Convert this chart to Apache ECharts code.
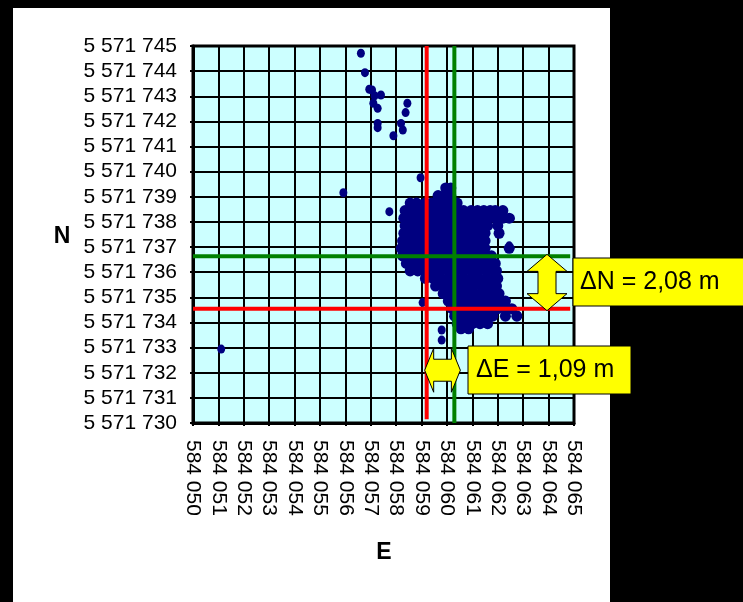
<!DOCTYPE html>
<html>
<head>
<meta charset="utf-8">
<script src="https://cdn.jsdelivr.net/npm/echarts@6/dist/echarts.min.js"></script>
<style>
html, body { margin: 0; padding: 0; background: #000; }
#chart { width: 743px; height: 602px; }
</style>
</head>
<body>
<div id="chart"></div>
<script>
// coordinates are stored as offsets from these bases (m)
var baseE = 584050, baseN = 5571730;

var xTickLabels = ['584 050', '584 051', '584 052', '584 053', '584 054', '584 055', '584 056', '584 057',
    '584 058', '584 059', '584 060', '584 061', '584 062', '584 063', '584 064', '584 065'];
var yTickLabels = ['5 571 730', '5 571 731', '5 571 732', '5 571 733', '5 571 734', '5 571 735', '5 571 736', '5 571 737',
    '5 571 738', '5 571 739', '5 571 740', '5 571 741', '5 571 742', '5 571 743', '5 571 744', '5 571 745'];

// loose points [E, N]
var loosePoints = [
    [6.61, 14.71], [6.77, 13.94], [6.94, 13.28], [7.05, 13.25], [7.15, 13.02], [7.40, 13.05], [7.10, 12.72],
    [7.27, 12.52], [8.44, 12.72], [8.37, 12.35], [7.27, 11.92], [7.27, 11.75], [8.19, 11.92], [8.26, 11.66],
    [7.89, 11.43], [8.96, 9.76], [5.92, 9.16], [7.73, 8.41], [1.11, 2.94], [9.79, 3.70], [9.79, 3.30],
    [12.77, 4.30], [12.28, 4.30], [12.45, 7.05], [12.51, 8.14], [12.06, 7.59], [9.04, 4.79]
];

// dense cloud, one row per N: [N, [E...]]
var cloudRows = [
    [9.35, [9.95, 10.15]],
    [9.05, [9.65, 9.9, 10.15]],
    [8.75, [8.55, 8.8, 9.15, 9.4, 9.65, 9.9, 10.15, 10.4]],
    [8.45, [8.35, 8.6, 8.85, 9.1, 9.35, 9.6, 9.85, 10.1, 10.35, 10.65, 10.95, 11.2, 11.45, 11.7, 11.9, 12.2]],
    [8.15, [8.3, 8.6, 8.9, 9.2, 9.5, 9.8, 10.1, 10.4, 10.7, 11.0, 11.3, 11.6, 11.9, 12.2, 12.45]],
    [7.85, [8.35, 8.65, 8.95, 9.25, 9.55, 9.85, 10.15, 10.45, 10.75, 11.05, 11.35, 11.6, 12.0]],
    [7.55, [8.3, 8.6, 8.9, 9.2, 9.5, 9.8, 10.1, 10.4, 10.7, 11.0, 11.3, 11.5, 12.05]],
    [7.25, [8.25, 8.55, 8.85, 9.15, 9.45, 9.75, 10.05, 10.35, 10.65, 10.95, 11.25, 11.5]],
    [6.95, [8.2, 8.5, 8.8, 9.1, 9.4, 9.7, 10.0, 10.3, 10.6, 10.9, 11.2, 11.5, 12.45]],
    [6.65, [8.25, 8.55, 8.85, 9.15, 9.45, 9.75, 10.05, 10.35, 10.65, 10.95, 11.25, 11.55, 11.75]],
    [6.35, [8.4, 8.7, 9.0, 9.3, 9.6, 9.9, 10.2, 10.5, 10.8, 11.1, 11.4, 11.7, 11.9]],
    [6.05, [8.55, 8.85, 9.15, 9.45, 9.75, 10.05, 10.35, 10.65, 10.95, 11.25, 11.55, 11.85, 11.95]],
    [5.75, [9.15, 9.45, 9.75, 10.05, 10.35, 10.65, 10.95, 11.25, 11.55, 11.85, 12.0]],
    [5.45, [9.55, 9.85, 10.15, 10.45, 10.75, 11.05, 11.35, 11.65, 11.95]],
    [5.15, [9.85, 10.15, 10.45, 10.75, 11.05, 11.35, 11.65, 11.95, 12.05]],
    [4.85, [10.05, 10.35, 10.65, 10.95, 11.25, 11.55, 11.85, 12.1, 12.3]],
    [4.55, [10.2, 10.5, 10.8, 11.1, 11.4, 11.7, 12.0, 12.3, 12.55]],
    [4.25, [10.3, 10.6, 10.9, 11.2, 11.5, 11.8, 12.3, 12.75]],
    [3.95, [10.4, 10.7, 11.0, 11.3, 11.6]],
    [3.75, [10.55, 10.85]]
];

// reference positions [E, N] (red = first, green = second)
var redPos = [9.20, 4.55];
var greenPos = [10.29, 6.63];
var deltaNText = 'ΔN = 2,08 m';
var deltaEText = 'ΔE = 1,09 m';

var FONT = '"Liberation Sans", Arial, sans-serif';

function toAbs(p) {
    return [baseE + p[0], baseN + p[1]];
}

var looseData = loosePoints.map(toAbs);
var cloudData = [];
for (var i = 0; i < cloudRows.length; i++) {
    var es = cloudRows[i][1];
    for (var j = 0; j < es.length; j++) {
        cloudData.push(toAbs([es[j], cloudRows[i][0]]));
    }
}

var xMin = baseE, xMax = baseE + 15;
var yMin = baseN, yMax = baseN + 15;

function refLine(name, color, data) {
    return {
        name: name,
        type: 'line',
        data: data,
        symbol: 'none',
        z: 5,
        silent: true,
        lineStyle: {color: color, width: 4},
        animation: false
    };
}

var chart = echarts.init(document.getElementById('chart'));
var panel = {
    id: 'panel', type: 'rect', z: -100, silent: true,
    shape: {x: 13, y: 8, width: 597, height: 594},
    style: {fill: '#fff'}
};
var option = {
    backgroundColor: '#000',
    animation: false,
    textStyle: {fontFamily: FONT},
    grid: {
        left: 193, right: 169, top: 46, bottom: 179,
        show: true,
        backgroundColor: '#CCFFFF',
        borderColor: '#000',
        borderWidth: 3
    },
    xAxis: {
        type: 'value',
        min: xMin, max: xMax, interval: 1,
        axisLine: {show: true, lineStyle: {color: '#000', width: 3}},
        axisTick: {show: true, length: 3, lineStyle: {color: '#000', width: 2}},
        splitLine: {show: true, lineStyle: {color: '#000', width: 2}},
        axisLabel: {
            rotate: -90,
            margin: 17,
            fontSize: 21,
            color: '#000',
            fontFamily: FONT,
            showMinLabel: true,
            showMaxLabel: true,
            formatter: function (v) {
                return xTickLabels[Math.round(v - baseE)];
            }
        }
    },
    yAxis: {
        type: 'value',
        min: yMin, max: yMax, interval: 1,
        axisLine: {show: true, lineStyle: {color: '#000', width: 3}},
        axisTick: {show: true, length: 3, lineStyle: {color: '#000', width: 2}},
        splitLine: {show: true, lineStyle: {color: '#000', width: 2}},
        axisLabel: {
            margin: 16,
            fontSize: 21,
            color: '#000',
            fontFamily: FONT,
            showMinLabel: true,
            showMaxLabel: true,
            formatter: function (v) {
                return yTickLabels[Math.round(v - baseN)];
            }
        }
    },
    series: [
        {
            name: 'points',
            type: 'scatter',
            data: looseData,
            symbol: 'circle',
            symbolSize: [8, 9],
            itemStyle: {color: '#000080', opacity: 1},
            z: 3
        },
        {
            name: 'cloud',
            type: 'scatter',
            data: cloudData,
            symbol: 'circle',
            symbolSize: 11,
            itemStyle: {color: '#000080', opacity: 1},
            z: 3
        },
        refLine('red E', '#FF0000', [[baseE + redPos[0], yMax], [baseE + redPos[0], baseN + 0.15]]),
        refLine('green E', '#008000', [[baseE + greenPos[0], yMax], [baseE + greenPos[0], yMin]]),
        refLine('red N', '#FF0000', [[xMin, baseN + redPos[1]], [baseE + 14.85, baseN + redPos[1]]]),
        refLine('green N', '#008000', [[xMin, baseN + greenPos[1]], [baseE + 14.85, baseN + greenPos[1]]])
    ],
    graphic: [panel]
};
chart.setOption(option);

// annotation arrows placed between the reference lines
var pRed = chart.convertToPixel({gridIndex: 0}, toAbs(redPos));
var pGreen = chart.convertToPixel({gridIndex: 0}, toAbs(greenPos));
var pVArrow = chart.convertToPixel({gridIndex: 0}, toAbs([13.95, 2.1]));

function vArrow(cx, y1, y2) {
    var hw = 20, hh = 17, sw = 9;
    return [[cx, y1], [cx + hw, y1 + hh], [cx + sw, y1 + hh], [cx + sw, y2 - hh], [cx + hw, y2 - hh],
        [cx, y2], [cx - hw, y2 - hh], [cx - sw, y2 - hh], [cx - sw, y1 + hh], [cx - hw, y1 + hh]];
}

function hArrow(cy, x1, x2) {
    var hh = 22, hl = 9, sh = 11;
    return [[x1, cy], [x1 + hl, cy - hh], [x1 + hl, cy - sh], [x2 - hl, cy - sh], [x2 - hl, cy - hh],
        [x2, cy], [x2 - hl, cy + hh], [x2 - hl, cy + sh], [x1 + hl, cy + sh], [x1 + hl, cy + hh]];
}

var arrowStyle = {fill: '#FFFF00', stroke: '#000', lineWidth: 1};
chart.setOption({
    graphic: [
        panel,
        {
            id: 'arrowN', type: 'polygon', z: 100, silent: true,
            shape: {points: vArrow(547, pGreen[1] - 2, pRed[1] + 2)},
            style: arrowStyle
        },
        {
            id: 'arrowE', type: 'polygon', z: 100, silent: true,
            shape: {points: hArrow(pVArrow[1], pRed[0] - 2, pGreen[0] + 6)},
            style: arrowStyle
        },
        {
            id: 'boxN', type: 'rect', z: 100, silent: true,
            shape: {x: 573, y: 258, width: 180, height: 48},
            style: arrowStyle
        },
        {
            id: 'textN', type: 'text', z: 101, silent: true,
            style: {x: 580, y: 282, text: deltaNText, fill: '#000', font: '25px ' + FONT, verticalAlign: 'middle'}
        },
        {
            id: 'boxE', type: 'rect', z: 100, silent: true,
            shape: {x: 468, y: 346, width: 163, height: 48},
            style: arrowStyle
        },
        {
            id: 'textE', type: 'text', z: 101, silent: true,
            style: {x: 476, y: 370, text: deltaEText, fill: '#000', font: '25px ' + FONT, verticalAlign: 'middle'}
        },
        {
            id: 'nameN', type: 'text', silent: true,
            style: {x: 62, y: 237, text: 'N', fill: '#000', font: 'bold 23px ' + FONT, align: 'center', verticalAlign: 'middle'}
        },
        {
            id: 'nameE', type: 'text', silent: true,
            style: {x: 384, y: 553, text: 'E', fill: '#000', font: 'bold 23px ' + FONT, align: 'center', verticalAlign: 'middle'}
        }
    ]
});
</script>
</body>
</html>
